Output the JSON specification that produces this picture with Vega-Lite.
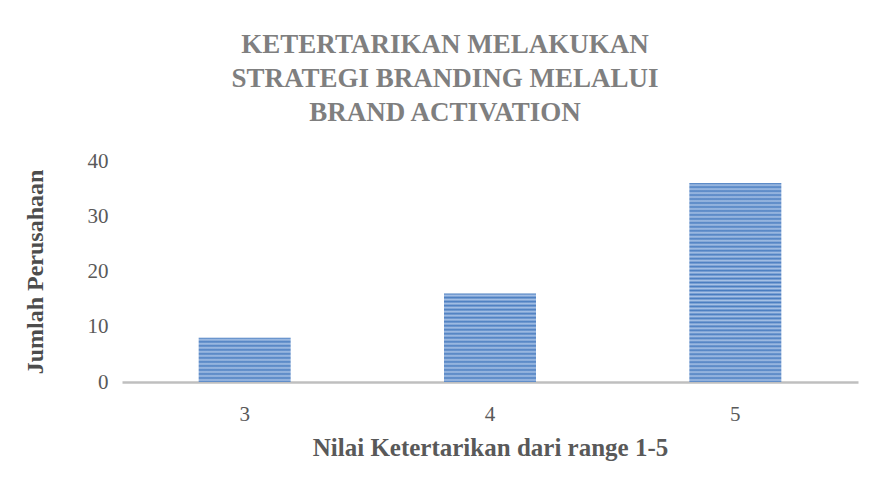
{
  "$schema": "https://vega.github.io/schema/vega-lite/v6.json",
  "width": 736,
  "height": 221,
  "autosize": {"type": "none"},
  "padding": {"left": 122, "top": 161, "right": 14, "bottom": 111},
  "background": "white",
  "title": {
    "text": ["KETERTARIKAN MELAKUKAN", "STRATEGI BRANDING MELALUI", "BRAND ACTIVATION"],
    "font": "Liberation Serif",
    "fontSize": 27,
    "fontWeight": "bold",
    "color": "#7f7f7f",
    "lineHeight": 34,
    "anchor": "middle",
    "frame": "group",
    "dx": -45,
    "offset": 23
  },
  "data": {
    "values": [
      {"nilai": "3", "jumlah": 8},
      {"nilai": "4", "jumlah": 16},
      {"nilai": "5", "jumlah": 36}
    ]
  },
  "mark": {"type": "bar"},
  "encoding": {
    "x": {
      "field": "nilai",
      "type": "nominal",
      "sort": null,
      "scale": {"paddingInner": 0.625, "paddingOuter": 0.3125},
      "axis": {
        "title": "Nilai Ketertarikan dari range 1-5",
        "labelAngle": 0,
        "labelFont": "Liberation Serif",
        "labelFontSize": 21,
        "labelColor": "#595959",
        "labelPadding": 21,
        "ticks": false,
        "domainColor": "#bfbfbf",
        "domainWidth": 2.5,
        "titleFont": "Liberation Serif",
        "titleFontSize": 25,
        "titleFontWeight": "bold",
        "titleColor": "#595959",
        "titlePadding": 11
      }
    },
    "y": {
      "field": "jumlah",
      "type": "quantitative",
      "scale": {"domain": [0, 40]},
      "axis": {
        "title": "Jumlah Perusahaan",
        "values": [0, 10, 20, 30, 40],
        "grid": false,
        "domain": false,
        "ticks": false,
        "labelFont": "Liberation Serif",
        "labelFontSize": 21,
        "labelColor": "#595959",
        "labelPadding": 14,
        "titleFont": "Liberation Serif",
        "titleFontSize": 24,
        "titleFontWeight": "bold",
        "titleColor": "#4d4d4d",
        "titlePadding": 40
      }
    },
    "fill": {
      "condition": [
        {
          "test": "datum['nilai'] == '3'",
          "value": {
            "gradient": "linear", "x1": 0, "y1": 0, "x2": 0, "y2": 1,
            "stops": [
              {"offset": 0, "color": "#4a7dc0"}, {"offset": 0.0455, "color": "#a8c2e6"},
              {"offset": 0.0909, "color": "#4a7dc0"}, {"offset": 0.1364, "color": "#a8c2e6"},
              {"offset": 0.1818, "color": "#4a7dc0"}, {"offset": 0.2273, "color": "#a8c2e6"},
              {"offset": 0.2727, "color": "#4a7dc0"}, {"offset": 0.3182, "color": "#a8c2e6"},
              {"offset": 0.3636, "color": "#4a7dc0"}, {"offset": 0.4091, "color": "#a8c2e6"},
              {"offset": 0.4545, "color": "#4a7dc0"}, {"offset": 0.5, "color": "#a8c2e6"},
              {"offset": 0.5455, "color": "#4a7dc0"}, {"offset": 0.5909, "color": "#a8c2e6"},
              {"offset": 0.6364, "color": "#4a7dc0"}, {"offset": 0.6818, "color": "#a8c2e6"},
              {"offset": 0.7273, "color": "#4a7dc0"}, {"offset": 0.7727, "color": "#a8c2e6"},
              {"offset": 0.8182, "color": "#4a7dc0"}, {"offset": 0.8636, "color": "#a8c2e6"},
              {"offset": 0.9091, "color": "#4a7dc0"}, {"offset": 0.9545, "color": "#a8c2e6"},
              {"offset": 1, "color": "#4a7dc0"}
            ]
          }
        },
        {
          "test": "datum['nilai'] == '4'",
          "value": {
            "gradient": "linear", "x1": 0, "y1": 0, "x2": 0, "y2": 1,
            "stops": [
              {"offset": 0, "color": "#4a7dc0"}, {"offset": 0.0227, "color": "#a8c2e6"},
              {"offset": 0.0455, "color": "#4a7dc0"}, {"offset": 0.0682, "color": "#a8c2e6"},
              {"offset": 0.0909, "color": "#4a7dc0"}, {"offset": 0.1136, "color": "#a8c2e6"},
              {"offset": 0.1364, "color": "#4a7dc0"}, {"offset": 0.1591, "color": "#a8c2e6"},
              {"offset": 0.1818, "color": "#4a7dc0"}, {"offset": 0.2045, "color": "#a8c2e6"},
              {"offset": 0.2273, "color": "#4a7dc0"}, {"offset": 0.25, "color": "#a8c2e6"},
              {"offset": 0.2727, "color": "#4a7dc0"}, {"offset": 0.2955, "color": "#a8c2e6"},
              {"offset": 0.3182, "color": "#4a7dc0"}, {"offset": 0.3409, "color": "#a8c2e6"},
              {"offset": 0.3636, "color": "#4a7dc0"}, {"offset": 0.3864, "color": "#a8c2e6"},
              {"offset": 0.4091, "color": "#4a7dc0"}, {"offset": 0.4318, "color": "#a8c2e6"},
              {"offset": 0.4545, "color": "#4a7dc0"}, {"offset": 0.4773, "color": "#a8c2e6"},
              {"offset": 0.5, "color": "#4a7dc0"}, {"offset": 0.5227, "color": "#a8c2e6"},
              {"offset": 0.5455, "color": "#4a7dc0"}, {"offset": 0.5682, "color": "#a8c2e6"},
              {"offset": 0.5909, "color": "#4a7dc0"}, {"offset": 0.6136, "color": "#a8c2e6"},
              {"offset": 0.6364, "color": "#4a7dc0"}, {"offset": 0.6591, "color": "#a8c2e6"},
              {"offset": 0.6818, "color": "#4a7dc0"}, {"offset": 0.7045, "color": "#a8c2e6"},
              {"offset": 0.7273, "color": "#4a7dc0"}, {"offset": 0.75, "color": "#a8c2e6"},
              {"offset": 0.7727, "color": "#4a7dc0"}, {"offset": 0.7955, "color": "#a8c2e6"},
              {"offset": 0.8182, "color": "#4a7dc0"}, {"offset": 0.8409, "color": "#a8c2e6"},
              {"offset": 0.8636, "color": "#4a7dc0"}, {"offset": 0.8864, "color": "#a8c2e6"},
              {"offset": 0.9091, "color": "#4a7dc0"}, {"offset": 0.9318, "color": "#a8c2e6"},
              {"offset": 0.9545, "color": "#4a7dc0"}, {"offset": 0.9773, "color": "#a8c2e6"},
              {"offset": 1, "color": "#4a7dc0"}
            ]
          }
        }
      ],
      "value": {
        "gradient": "linear", "x1": 0, "y1": 0, "x2": 0, "y2": 1,
        "stops": [
          {"offset": 0, "color": "#4a7dc0"}, {"offset": 0.01, "color": "#a8c2e6"},
          {"offset": 0.02, "color": "#4a7dc0"}, {"offset": 0.03, "color": "#a8c2e6"},
          {"offset": 0.04, "color": "#4a7dc0"}, {"offset": 0.05, "color": "#a8c2e6"},
          {"offset": 0.06, "color": "#4a7dc0"}, {"offset": 0.07, "color": "#a8c2e6"},
          {"offset": 0.08, "color": "#4a7dc0"}, {"offset": 0.09, "color": "#a8c2e6"},
          {"offset": 0.10, "color": "#4a7dc0"}, {"offset": 0.11, "color": "#a8c2e6"},
          {"offset": 0.12, "color": "#4a7dc0"}, {"offset": 0.13, "color": "#a8c2e6"},
          {"offset": 0.14, "color": "#4a7dc0"}, {"offset": 0.15, "color": "#a8c2e6"},
          {"offset": 0.16, "color": "#4a7dc0"}, {"offset": 0.17, "color": "#a8c2e6"},
          {"offset": 0.18, "color": "#4a7dc0"}, {"offset": 0.19, "color": "#a8c2e6"},
          {"offset": 0.20, "color": "#4a7dc0"}, {"offset": 0.21, "color": "#a8c2e6"},
          {"offset": 0.22, "color": "#4a7dc0"}, {"offset": 0.23, "color": "#a8c2e6"},
          {"offset": 0.24, "color": "#4a7dc0"}, {"offset": 0.25, "color": "#a8c2e6"},
          {"offset": 0.26, "color": "#4a7dc0"}, {"offset": 0.27, "color": "#a8c2e6"},
          {"offset": 0.28, "color": "#4a7dc0"}, {"offset": 0.29, "color": "#a8c2e6"},
          {"offset": 0.30, "color": "#4a7dc0"}, {"offset": 0.31, "color": "#a8c2e6"},
          {"offset": 0.32, "color": "#4a7dc0"}, {"offset": 0.33, "color": "#a8c2e6"},
          {"offset": 0.34, "color": "#4a7dc0"}, {"offset": 0.35, "color": "#a8c2e6"},
          {"offset": 0.36, "color": "#4a7dc0"}, {"offset": 0.37, "color": "#a8c2e6"},
          {"offset": 0.38, "color": "#4a7dc0"}, {"offset": 0.39, "color": "#a8c2e6"},
          {"offset": 0.40, "color": "#4a7dc0"}, {"offset": 0.41, "color": "#a8c2e6"},
          {"offset": 0.42, "color": "#4a7dc0"}, {"offset": 0.43, "color": "#a8c2e6"},
          {"offset": 0.44, "color": "#4a7dc0"}, {"offset": 0.45, "color": "#a8c2e6"},
          {"offset": 0.46, "color": "#4a7dc0"}, {"offset": 0.47, "color": "#a8c2e6"},
          {"offset": 0.48, "color": "#4a7dc0"}, {"offset": 0.49, "color": "#a8c2e6"},
          {"offset": 0.50, "color": "#4a7dc0"}, {"offset": 0.51, "color": "#a8c2e6"},
          {"offset": 0.52, "color": "#4a7dc0"}, {"offset": 0.53, "color": "#a8c2e6"},
          {"offset": 0.54, "color": "#4a7dc0"}, {"offset": 0.55, "color": "#a8c2e6"},
          {"offset": 0.56, "color": "#4a7dc0"}, {"offset": 0.57, "color": "#a8c2e6"},
          {"offset": 0.58, "color": "#4a7dc0"}, {"offset": 0.59, "color": "#a8c2e6"},
          {"offset": 0.60, "color": "#4a7dc0"}, {"offset": 0.61, "color": "#a8c2e6"},
          {"offset": 0.62, "color": "#4a7dc0"}, {"offset": 0.63, "color": "#a8c2e6"},
          {"offset": 0.64, "color": "#4a7dc0"}, {"offset": 0.65, "color": "#a8c2e6"},
          {"offset": 0.66, "color": "#4a7dc0"}, {"offset": 0.67, "color": "#a8c2e6"},
          {"offset": 0.68, "color": "#4a7dc0"}, {"offset": 0.69, "color": "#a8c2e6"},
          {"offset": 0.70, "color": "#4a7dc0"}, {"offset": 0.71, "color": "#a8c2e6"},
          {"offset": 0.72, "color": "#4a7dc0"}, {"offset": 0.73, "color": "#a8c2e6"},
          {"offset": 0.74, "color": "#4a7dc0"}, {"offset": 0.75, "color": "#a8c2e6"},
          {"offset": 0.76, "color": "#4a7dc0"}, {"offset": 0.77, "color": "#a8c2e6"},
          {"offset": 0.78, "color": "#4a7dc0"}, {"offset": 0.79, "color": "#a8c2e6"},
          {"offset": 0.80, "color": "#4a7dc0"}, {"offset": 0.81, "color": "#a8c2e6"},
          {"offset": 0.82, "color": "#4a7dc0"}, {"offset": 0.83, "color": "#a8c2e6"},
          {"offset": 0.84, "color": "#4a7dc0"}, {"offset": 0.85, "color": "#a8c2e6"},
          {"offset": 0.86, "color": "#4a7dc0"}, {"offset": 0.87, "color": "#a8c2e6"},
          {"offset": 0.88, "color": "#4a7dc0"}, {"offset": 0.89, "color": "#a8c2e6"},
          {"offset": 0.90, "color": "#4a7dc0"}, {"offset": 0.91, "color": "#a8c2e6"},
          {"offset": 0.92, "color": "#4a7dc0"}, {"offset": 0.93, "color": "#a8c2e6"},
          {"offset": 0.94, "color": "#4a7dc0"}, {"offset": 0.95, "color": "#a8c2e6"},
          {"offset": 0.96, "color": "#4a7dc0"}, {"offset": 0.97, "color": "#a8c2e6"},
          {"offset": 0.98, "color": "#4a7dc0"}, {"offset": 0.99, "color": "#a8c2e6"},
          {"offset": 1, "color": "#4a7dc0"}
        ]
      }
    }
  },
  "config": {"view": {"stroke": null}}
}
